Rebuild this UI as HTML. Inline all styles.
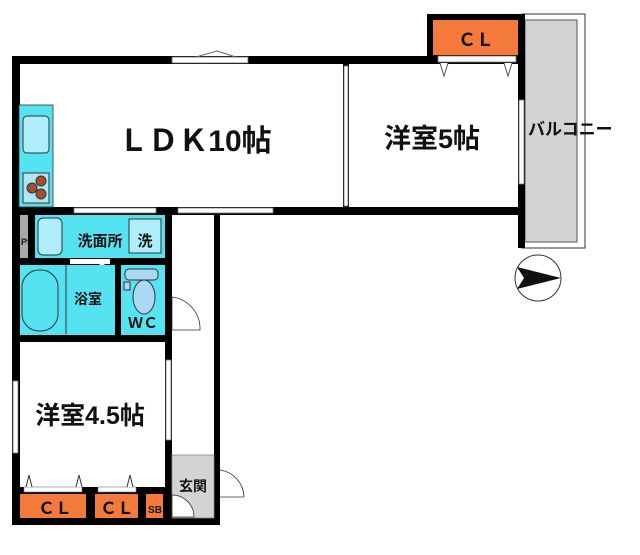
<!DOCTYPE html>
<html><head><meta charset="utf-8"><style>
body{margin:0;background:#fff;width:640px;height:550px;overflow:hidden}
svg text{font-family:"Liberation Sans","Noto Sans CJK JP",sans-serif;font-weight:bold;fill:#111}
</style></head><body>
<svg width="640" height="550" viewBox="0 0 640 550">
<!-- balcony -->
<rect x="522" y="14" width="63" height="234" fill="#fff" stroke="#333" stroke-width="1"/>
<rect x="525" y="20" width="52" height="222" fill="#d3d3d3" stroke="#555" stroke-width="1"/>
<!-- CL top -->
<rect x="427" y="14" width="98" height="46" fill="#000"/>
<rect x="433" y="20" width="85" height="35" fill="#f47a3c"/>
<text x="476" y="46" font-size="18" text-anchor="middle">ＣＬ</text>
<!-- walls -->
<rect x="12" y="56" width="513" height="8" fill="#000"/>
<rect x="12" y="56" width="8" height="469" fill="#000"/>
<rect x="518" y="14" width="7" height="234" fill="#000"/>
<rect x="12" y="207" width="513" height="8" fill="#000"/>
<rect x="343" y="56" width="6" height="156" fill="#000"/>
<rect x="165" y="207" width="7" height="318" fill="#000"/>
<rect x="214" y="207" width="6" height="318" fill="#000"/>
<rect x="12" y="518" width="208" height="7" fill="#000"/>
<rect x="20" y="64" width="323" height="143" fill="#fff"/>
<rect x="349" y="64" width="169" height="143" fill="#fff"/>
<!-- windows / doors -->
<rect x="172" y="57" width="76" height="6" fill="#fff" stroke="#666" stroke-width="0.8"/>
<polyline points="196,57 217,51 236,57" fill="none" stroke="#666"/>
<rect x="344" y="66" width="4" height="140" fill="#fff" stroke="#777" stroke-width="0.8"/>
<rect x="519" y="100" width="5" height="84" fill="#fff" stroke="#777" stroke-width="0.8"/>
<rect x="438" y="56" width="78" height="6" fill="#fff" stroke="#777" stroke-width="0.8"/>
<polyline points="440,63 444,76 448,63" fill="#fff" stroke="#555"/>
<polyline points="504,63 508,76 512,63" fill="#fff" stroke="#555"/>
<rect x="74" y="208" width="82" height="5" fill="#fff" stroke="#777" stroke-width="0.8"/>
<rect x="178" y="208" width="95" height="5" fill="#fff" stroke="#777" stroke-width="0.8"/>
<!-- kitchen -->
<rect x="19" y="105" width="34" height="102" fill="#55e3f2" stroke="#333" stroke-width="0.8"/>
<rect x="23" y="116" width="26" height="37" rx="4" fill="#aeeefa" stroke="#333"/>
<rect x="23" y="173" width="26" height="30" fill="#aee6f5" stroke="#333"/>
<circle cx="41" cy="181" r="5" fill="#a0522d" stroke="#333"/>
<circle cx="32" cy="188" r="5" fill="#a0522d" stroke="#333"/>
<circle cx="41" cy="194" r="5" fill="#a0522d" stroke="#333"/>
<!-- PS -->
<rect x="20" y="215" width="8" height="43" fill="#aaa"/>
<text x="21" y="245" font-size="9" font-weight="normal">PS</text>
<rect x="28" y="215" width="7" height="43" fill="#000"/>
<!-- 洗面所 -->
<rect x="35" y="215" width="130" height="43" fill="#55e3f2"/>
<rect x="38" y="218" width="24" height="37" rx="5" fill="#aeeefa" stroke="#333"/>
<rect x="129" y="219" width="32" height="34" fill="#aeeefa" stroke="#333"/>
<text x="100" y="246" font-size="15" text-anchor="middle">洗面所</text>
<text x="145" y="246" font-size="15" text-anchor="middle">洗</text>
<rect x="12" y="258" width="160" height="7" fill="#000"/>
<rect x="70" y="259" width="40" height="5" fill="#fff"/>
<polyline points="99,264 102,274 105,264" fill="#fff" stroke="#333"/>
<!-- bath -->
<rect x="20" y="265" width="95" height="70" fill="#55e3f2"/>
<rect x="22" y="270" width="36" height="61" rx="17" fill="#55e3f2" stroke="#333"/>
<line x1="66" y1="265" x2="66" y2="334" stroke="#333"/>
<text x="88" y="304" font-size="14" text-anchor="middle">浴室</text>
<rect x="115" y="265" width="6" height="70" fill="#000"/>
<rect x="121" y="265" width="44" height="70" fill="#55e3f2"/>
<rect x="125" y="269" width="33" height="11" rx="4" fill="#aad8f5" stroke="#333"/>
<rect x="124" y="282" width="6" height="8" fill="#aad8f5" stroke="#333"/>
<ellipse cx="144" cy="297" rx="11" ry="17" fill="#aad8f5" stroke="#333"/>
<text x="143" y="328" font-size="15" text-anchor="middle">ＷＣ</text>
<path d="M172,297 A32,32 0 0 1 200,330 L172,330 Z" fill="#fff" stroke="#333" stroke-width="0.8"/>
<rect x="12" y="335" width="160" height="7" fill="#000"/>
<!-- 洋室4.5 -->
<rect x="20" y="342" width="145" height="145" fill="#fff"/>
<rect x="13" y="381" width="5" height="72" fill="#fff" stroke="#777" stroke-width="0.8"/>
<rect x="166" y="360" width="5" height="80" fill="#fff" stroke="#777" stroke-width="0.8"/>
<text x="90" y="424" font-size="25" text-anchor="middle">洋室4.5帖</text>
<!-- closets -->
<rect x="20" y="487" width="145" height="31" fill="#000"/>
<rect x="24" y="487" width="58" height="5" fill="#fff" stroke="#777" stroke-width="0.6"/>
<rect x="98" y="487" width="38" height="5" fill="#fff" stroke="#777" stroke-width="0.6"/>
<rect x="20" y="494" width="66" height="24" fill="#f47a3c"/>
<rect x="95" y="494" width="43" height="24" fill="#f47a3c"/>
<rect x="146" y="494" width="17" height="24" fill="#f47a3c"/>
<polyline points="26,487 29,475 32,487" fill="#fff" stroke="#333"/>
<polyline points="76,487 79,475 82,487" fill="#fff" stroke="#333"/>
<polyline points="127,487 130,475 133,487" fill="#fff" stroke="#333"/>
<text x="55" y="514" font-size="17" text-anchor="middle">ＣＬ</text>
<text x="117" y="514" font-size="17" text-anchor="middle">ＣＬ</text>
<text x="155" y="513" font-size="10" text-anchor="middle" font-weight="normal">SB</text>
<!-- 玄関 -->
<rect x="172" y="455" width="42" height="63" fill="#d3d3d3" stroke="#888" stroke-width="0.8"/>
<text x="193" y="491" font-size="14" text-anchor="middle">玄関</text>
<path d="M172,495 A22,22 0 0 1 194,517 L172,517 Z" fill="#fff" stroke="#333" stroke-width="0.8"/>
<path d="M220,470 A28,28 0 0 1 244,497" fill="none" stroke="#333" stroke-width="0.8"/>
<line x1="220" y1="497" x2="244" y2="497" stroke="#333" stroke-width="0.8"/>
<!-- labels -->
<text x="195" y="151" font-size="30" text-anchor="middle">ＬＤＫ10帖</text>
<text x="432" y="148" font-size="27" text-anchor="middle">洋室5帖</text>
<text x="528" y="135" font-size="17">バルコニー</text>
<!-- compass -->
<circle cx="538" cy="278" r="23" fill="#fff" stroke="#333"/>
<path d="M517,267 L561,278 L517,289 L524,278 Z" fill="#111"/>
</svg>
</body></html>
